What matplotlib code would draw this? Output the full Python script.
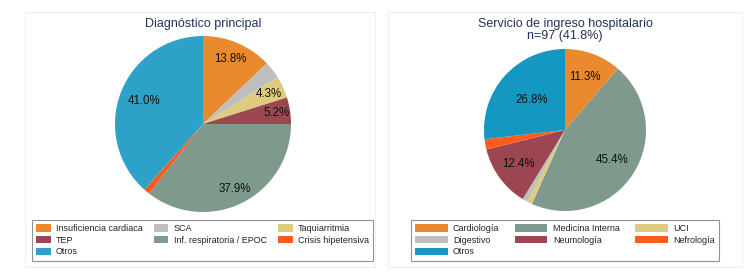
import numpy as np
import matplotlib
matplotlib.use("Agg")
import matplotlib.pyplot as plt
from matplotlib.patches import Patch, Rectangle

plt.rcParams['font.family'] = ['Liberation Sans', 'DejaVu Sans']

# --- data -------------------------------------------------------------
diag_labels = ["Insuficiencia cardiaca", "SCA", "Taquiarritmia", "TEP",
               "Inf. respiratoria / EPOC", "Crisis hipetensiva", "Otros"]
diag_pct = [13.8, 3.4, 4.3, 5.2, 37.9, 1.2, 41.0]
diag_shown = [True, False, True, True, True, False, True]

serv_labels = ["Cardiología", "Medicina Interna", "UCI", "Digestivo",
               "Neumología", "Nefrología", "Otros"]
serv_n = [11, 44, 1, 1, 12, 2, 26]
serv_shown = [True, True, False, False, True, False, True]

# --- colours ----------------------------------------------------------
C_ORANGE = "#E88A2D"
C_GRAY = "#BEBEBE"
C_TAN = "#DFCB7D"
C_MAROON = "#9B4650"
C_SAGE = "#7F9A8D"
C_RED = "#FF5B1E"
diag_colors = [C_ORANGE, C_GRAY, C_TAN, C_MAROON, C_SAGE, C_RED, "#2EA1C9"]
serv_colors = [C_ORANGE, C_SAGE, C_TAN, C_GRAY, C_MAROON, C_RED, "#1497C0"]
TITLE_C = "#24325A"

W, H = 750, 278
fig = plt.figure(figsize=(W / 100, H / 100), dpi=100)


def fx(px):
    return px / W


def fy(py):
    return 1 - py / H


def panel(x0, y0, x1, y1):
    fig.patches.append(Rectangle((fx(x0), fy(y1)), fx(x1 - x0), (y1 - y0) / H,
                                 transform=fig.transFigure, facecolor="none",
                                 edgecolor="#f0f0f0", lw=0.8, zorder=-1))


def draw_pie(cx, cy, r, values, colors, texts, shown, lab_r):
    ax = fig.add_axes([fx(cx - r), fy(cy + r), 2 * r / W, 2 * r / H])
    wedges, _ = ax.pie(values, colors=colors, startangle=90, counterclock=False,
                       radius=1, wedgeprops=dict(linewidth=0))
    ax.set_xlim(-1, 1)
    ax.set_ylim(-1, 1)
    ax.axis("off")
    for w, t, s, lr in zip(wedges, texts, shown, lab_r):
        if not s:
            continue
        a = np.deg2rad((w.theta1 + w.theta2) / 2)
        ax.text(lr * np.cos(a), lr * np.sin(a), t, ha="center", va="center",
                fontsize=8.3, color="#111111")
    return ax


def legend(handles_labels, x0, y0, x1, y1, hlen):
    hs = [Patch(facecolor=c, edgecolor="none") for c, _ in handles_labels]
    ls = [l for _, l in handles_labels]
    # reorder so that rows read left to right (matplotlib fills columns)
    order = [0, 3, 6, 1, 4, 2, 5]
    leg = fig.legend([hs[i] for i in order], [ls[i] for i in order],
                     ncol=3, loc="upper left", mode="expand",
                     bbox_to_anchor=(fx(x0), fy(y0), fx(x1 - x0), 0),
                     bbox_transform=fig.transFigure,
                     fontsize=6.5, frameon=True, fancybox=False,
                     handlelength=hlen, handleheight=0.85, handletextpad=0.6,
                     labelspacing=0.3, borderpad=0.45, borderaxespad=0,
                     columnspacing=1.0)
    fr = leg.get_frame()
    fr.set_edgecolor("#777777")
    fr.set_linewidth(0.8)
    for t in leg.get_texts():
        t.set_color("#222222")
    return leg


# left panel
panel(25, 12, 375, 267)
diag_txt = [f"{v:.1f}%" for v in diag_pct]
draw_pie(203, 124, 88, diag_pct, diag_colors, diag_txt, diag_shown,
         [0.8, 0.8, 0.82, 0.85, 0.82, 0.8, 0.72])
fig.text(fx(203), fy(24), "Diagnóstico principal", ha="center", va="center",
         fontsize=9, color=TITLE_C)
legend(list(zip(diag_colors, diag_labels)), 32, 220, 373, 263, 1.6)

# right panel
panel(388, 12, 742, 267)
tot = sum(serv_n)
serv_txt = [f"{100 * v / tot:.1f}%" for v in serv_n]
draw_pie(565, 130, 81, serv_n, serv_colors, serv_txt, serv_shown,
         [0.7, 0.69, 0.7, 0.7, 0.72, 0.7, 0.55])
fig.text(fx(565), fy(30), "Servicio de ingreso hospitalario\nn=97 (41.8%)",
         ha="center", va="center", fontsize=9, color=TITLE_C, linespacing=0.95)
legend(list(zip(serv_colors, serv_labels)), 411, 220, 719, 263, 3.6)

fig.savefig("out.png", dpi=100, facecolor="white")
